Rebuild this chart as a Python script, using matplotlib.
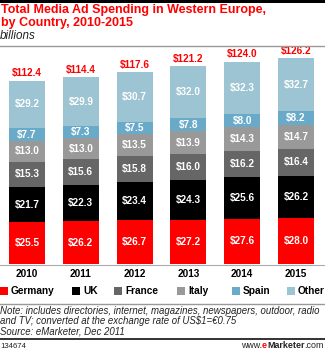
import numpy as np
import matplotlib
matplotlib.use('Agg')
import matplotlib.pyplot as plt
from matplotlib.patches import Rectangle
from matplotlib.lines import Line2D

years = ['2010', '2011', '2012', '2013', '2014', '2015']
countries = ['Germany', 'UK', 'France', 'Italy', 'Spain', 'Other']
germany = [25.5, 26.2, 26.7, 27.2, 27.6, 28.0]
uk = [21.7, 22.3, 23.4, 24.3, 25.6, 26.2]
france = [15.3, 15.6, 15.8, 16.0, 16.2, 16.4]
italy = [13.0, 13.0, 13.5, 13.9, 14.3, 14.7]
spain = [7.7, 7.3, 7.5, 7.8, 8.0, 8.2]
other = [29.2, 29.9, 30.7, 32.0, 32.3, 32.7]
totals = [112.4, 114.4, 117.6, 121.2, 124.0, 126.2]

colors = ['#ff0000', '#000000', '#666666', '#999999', '#6aaac9', '#9dc4d2']
RED = '#ff0000'
plt.rcParams['font.family'] = 'Liberation Sans'

W, H = 325, 350
fig = plt.figure(figsize=(W / 100, H / 100), dpi=100)
fig.patch.set_facecolor('white')

def fy(py):
    return 1 - py / H

def fx(px):
    return px / W

# plot area: baseline at pixel 264, top at pixel 45
ax = fig.add_axes([0, fy(264), 1, (264 - 45) / H])
ax.set_xlim(-0.502, 5.539)
ax.set_ylim(0, 134.2)
ax.axis('off')

x = np.arange(len(years))
series = [germany, uk, france, italy, spain, other]
bottom = np.zeros(len(years))
for vals, c in zip(series, colors):
    vals = np.array(vals)
    ax.bar(x, vals, 0.67, bottom=bottom, color=c, edgecolor='none')
    for xi, b, v in zip(x, bottom, vals):
        ax.text(xi, b + v / 2, f'${v:.1f}', ha='center', va='center',
                color='white', fontsize=7.2, fontweight='bold')
    bottom += vals

for xi, t, b in zip(x, totals, bottom):
    ax.text(xi, b + 1.4, f'${t:.1f}', ha='center', va='bottom',
            color=RED, fontsize=7.2, fontweight='bold')

# baseline
fig.add_artist(Line2D([0, 1], [fy(265), fy(265)], color='#aaaaaa', lw=0.8))

# year labels
for xi, yr in zip(x, years):
    ax.text(xi, -(274 - 264) / 1.632, yr, ha='center', va='center',
            fontsize=7.2, fontweight='bold')

# header
fig.add_artist(Rectangle((0, fy(3)), 1, 3 / H, color='black', lw=0))
fig.text(fx(1), fy(10), 'Total Media Ad Spending in Western Europe,',
         color=RED, fontsize=9, fontweight='bold', va='center', ha='left')
fig.text(fx(1), fy(23), 'by Country, 2010-2015',
         color=RED, fontsize=9, fontweight='bold', va='center', ha='left')
fig.text(fx(0), fy(36), 'billions', color='#222222', fontsize=8.4,
         style='italic', va='center', ha='left')
fig.add_artist(Line2D([0, 1], [fy(45.5), fy(45.5)], color='#999999', lw=1))

# legend
leg_sq = [0, 72, 114, 177, 232, 287]
for px, c, name in zip(leg_sq, colors, countries):
    fig.add_artist(Rectangle((fx(px), fy(295)), 8 / W, 8 / H, color=c, lw=0))
    fig.text(fx(px + 11), fy(291), name, fontsize=7.3, fontweight='bold',
             va='center', ha='left')
fig.add_artist(Line2D([0, 1], [fy(303.5), fy(303.5)], color='#999999', lw=1))

# notes
notes = ['Note: includes directories, internet, magazines, newspapers, outdoor, radio',
         'and TV; converted at the exchange rate of US$1=\u20ac0.75',
         'Source: eMarketer, Dec 2011']
for i, line in enumerate(notes):
    fig.text(fx(0), fy(311 + 10.5 * i), line, fontsize=6.9, style='italic',
             color='#222222', va='center', ha='left')

fig.add_artist(Line2D([0, 1], [fy(339), fy(339)], color='#222222', lw=1.3))
fig.text(fx(0), fy(346), '134674', fontsize=5.6, color='#222222',
         va='center', ha='left')

# url written right to left in pieces so the "e" can be red
renderer = fig.canvas.get_renderer()
parts = [('.com', '#222222', 'normal'), ('Marketer', '#222222', 'bold'),
         ('e', RED, 'bold'), ('www.', '#222222', 'normal')]
xpos = 324
for s, c, w in parts:
    t = fig.text(fx(xpos), fy(346), s, fontsize=6.4, color=c, fontweight=w,
                 va='center', ha='right')
    xpos -= t.get_window_extent(renderer=renderer).width

fig.savefig('out.png', dpi=100)
